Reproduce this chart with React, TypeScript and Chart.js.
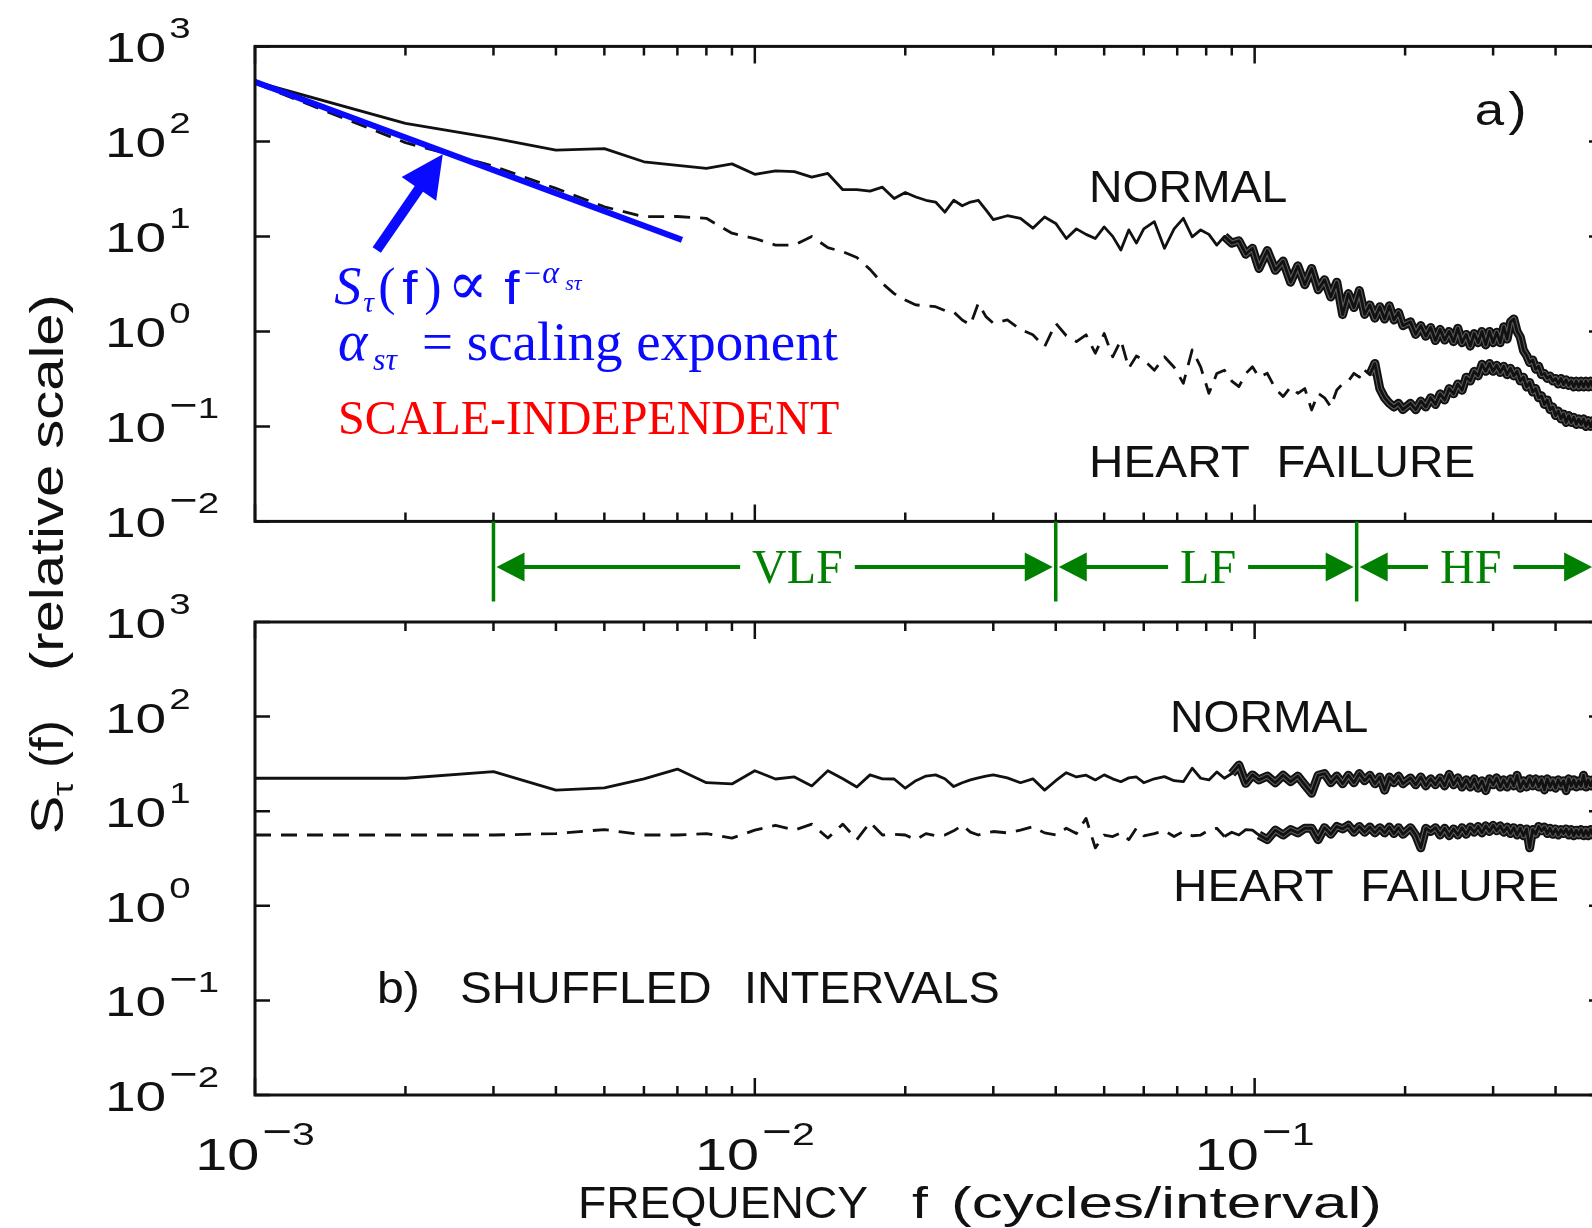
import { useEffect, useRef } from 'react';
import { Chart, registerables } from 'chart.js';

Chart.register(...registerables);

// ---------------- data ----------------
// frequencies f (cycles/interval)
const FREQ = [
  0.001, 0.002, 0.003, 0.004, 0.005, 0.006, 0.007, 0.008, 0.009, 0.010,
  0.011, 0.012, 0.013, 0.014, 0.015, 0.016, 0.017, 0.018, 0.019, 0.020,
  0.021, 0.022, 0.023, 0.024, 0.025, 0.026, 0.027, 0.028, 0.029, 0.030,
  0.032, 0.034, 0.036, 0.038, 0.040, 0.042, 0.044, 0.046, 0.048, 0.050,
  0.052, 0.054, 0.056, 0.058, 0.060,
  0.063, 0.066, 0.069, 0.072, 0.075, 0.078, 0.081, 0.084, 0.087, 0.090,
  0.093, 0.096, 0.099, 0.102,
  0.106, 0.110, 0.114, 0.118, 0.122, 0.126, 0.130, 0.134, 0.138, 0.142,
  0.146, 0.150, 0.154, 0.158, 0.162, 0.166, 0.170, 0.174, 0.178, 0.182,
  0.186, 0.190, 0.194, 0.198,
  0.205, 0.210, 0.215, 0.220, 0.225, 0.230, 0.235, 0.240, 0.245, 0.250,
  0.255, 0.260, 0.265, 0.270, 0.275, 0.280, 0.285, 0.290, 0.295, 0.300,
  0.305, 0.310, 0.315, 0.320, 0.325, 0.330, 0.335, 0.340, 0.345, 0.350,
  0.355, 0.360, 0.365, 0.370, 0.375, 0.380, 0.385, 0.390, 0.395, 0.400,
  0.405, 0.410, 0.415, 0.420, 0.425, 0.430, 0.435, 0.440, 0.445, 0.450,
  0.455, 0.460, 0.465, 0.470, 0.475, 0.480, 0.485, 0.490, 0.495, 0.500,
];

// panel a) original intervals
const TOP_NORMAL = [
  425, 155, 108, 81, 84, 61, 56, 52, 58, 45,
  49, 48, 42, 46, 31, 31, 30, 33, 25, 29,
  26, 24, 23, 18, 24, 21, 23, 24, 19, 15,
  16.5, 15.5, 12.2, 16, 13.7, 9.5, 12, 10.5, 9.5, 12.6,
  10, 7.2, 11.7, 8.5, 12,
  14.3, 7.5, 12, 15.5, 9.9, 11.7, 10.5, 8.1, 10, 8.5,
  9, 6.5, 7.5, 4.6,
  7.1, 4.4, 5.5, 3.3, 4.9, 3.1, 4.6, 2.75, 3.5, 2.3,
  3.3, 1.5, 2.5, 1.78, 2.7, 1.51, 1.9, 1.38, 1.82, 1.35,
  1.86, 1.32, 1.58, 1.15,
  1.26, 0.93, 1.15, 0.89, 1.1, 0.8, 1.05, 0.81, 1.0, 0.78,
  1.08, 0.76, 0.93, 0.7, 0.95, 0.76, 1.0, 0.72, 1.0, 0.76,
  0.98, 0.76, 1.12, 0.83, 1.26, 1.35, 1.0, 0.87, 0.63, 0.56,
  0.47, 0.5, 0.4, 0.43, 0.35, 0.36, 0.32, 0.34, 0.3, 0.32,
  0.28, 0.32, 0.275, 0.31, 0.27, 0.3, 0.26, 0.3, 0.26, 0.3,
  0.26, 0.3, 0.26, 0.3, 0.26, 0.29, 0.26, 0.29, 0.26, 0.28,
];
const TOP_HEART_FAILURE = [
  410, 97, 55, 32, 20.5, 16.1, 16.2, 15.5, 10.8, 9.5,
  8.1, 8.1, 10, 7.6, 6.9, 6.0, 4.5, 3.2, 2.5, 2.14,
  1.9, 1.86, 1.82, 1.66, 1.6, 1.32, 1.17, 1.98, 1.43, 1.22,
  1.32, 1.05, 0.92, 0.69, 1.22, 0.9, 0.78, 0.92, 0.59, 0.95,
  0.54, 0.81, 0.41, 0.55, 0.5,
  0.39, 0.54, 0.42, 0.284, 0.64, 0.42, 0.223, 0.36, 0.39, 0.3,
  0.262, 0.36, 0.425, 0.33,
  0.362, 0.25, 0.206, 0.26, 0.223, 0.25, 0.149, 0.223, 0.2, 0.161,
  0.242, 0.28, 0.3, 0.362, 0.33, 0.39, 0.35, 0.46, 0.25, 0.2,
  0.175, 0.16, 0.175, 0.15,
  0.175, 0.15, 0.185, 0.16, 0.2, 0.17, 0.22, 0.19, 0.25, 0.22,
  0.28, 0.24, 0.33, 0.3, 0.38, 0.34, 0.45, 0.38, 0.46, 0.38,
  0.44, 0.37, 0.43, 0.35, 0.41, 0.34, 0.38, 0.3, 0.33, 0.26,
  0.29, 0.23, 0.25, 0.2, 0.21, 0.17, 0.19, 0.15, 0.16, 0.13,
  0.145, 0.12, 0.135, 0.11, 0.13, 0.11, 0.125, 0.105, 0.12, 0.105,
  0.12, 0.1, 0.115, 0.1, 0.115, 0.1, 0.115, 0.1, 0.11, 0.1,
];

// panel b) shuffled intervals
const BOTTOM_NORMAL = [
  22.3, 22.3, 26.2, 16.7, 17.6, 22, 27.9, 20, 19.4, 26.8,
  21.9, 23, 18.5, 26.8, 22, 18, 24.2, 22, 21.9, 17.5,
  21, 23.5, 24.2, 22, 18.2, 20, 21.4, 22.5, 23.5, 24.2,
  22.5, 20, 22, 16.7, 21, 25.5, 23, 24, 21.4, 24.2,
  22, 20.5, 22.5, 23, 20,
  22, 23.2, 21, 20.5, 28.5, 22.3, 21.4, 26, 22.3, 25,
  30.7, 19.7, 24.2, 21.4,
  23.5, 20, 24, 20.5, 23.5, 19, 15.5, 24, 25, 20,
  23.5, 19.5, 24, 20, 25, 21, 24, 19.5, 23, 16.7,
  23, 20, 23.5, 19.5,
  22.5, 19, 23, 18.5, 22, 19, 22.5, 18.5, 24.5, 19,
  22.5, 18, 21.5, 18, 22, 17.5, 21, 16.5, 22, 19,
  22.5, 18, 21.5, 18, 22, 18.5, 24, 17.5, 21, 18,
  22, 18.5, 22, 18, 21.5, 16.8, 22, 18, 21, 17.5,
  21.5, 18.5, 21, 16.5, 22, 18.5, 21.5, 18, 21, 18.5,
  24, 18, 21.5, 18.5, 21.5, 18, 21, 18.5, 21, 18.5,
];
const BOTTOM_HEART_FAILURE = [
  5.6, 5.6, 5.6, 5.8, 6.4, 5.6, 5.6, 5.8, 5.2, 6.3,
  7.1, 6.3, 7.3, 5.2, 7.3, 5.0, 7.6, 5.6, 5.7, 5.6,
  5.0, 5.8, 5.5, 5.6, 6.2, 7.1, 6.0, 5.6, 5.9, 6.1,
  5.9, 6.3, 6.85, 5.9, 5.6, 6.6, 5.8, 8.4, 4.1, 5.6,
  5.4, 5.9, 5.0, 6.6, 5.5,
  5.8, 6.2, 5.4, 6.1, 5.5, 5.6, 6.3, 6.6, 5.4, 6.0,
  5.6, 6.4, 6.3, 5.6,
  5.0, 6.3, 5.6, 6.4, 5.9, 6.6, 6.6, 5.0, 6.7, 5.7,
  6.9, 6.5, 7.1, 6.0, 6.9, 6.0, 6.8, 5.9, 6.7, 5.9,
  6.8, 5.8, 6.7, 5.7,
  6.7, 5.6, 4.1, 6.6, 6.1, 6.7, 5.6, 6.6, 5.5, 6.5,
  5.6, 6.7, 5.7, 6.8, 6.0, 6.9, 5.9, 7.0, 6.1, 7.1,
  6.2, 7.0, 6.0, 6.8, 5.8, 6.7, 5.6, 6.6, 5.5, 6.5,
  4.1, 6.4, 5.7, 6.9, 6.2, 6.8, 5.8, 6.6, 5.7, 6.5,
  5.6, 6.4, 5.8, 6.5, 5.6, 6.4, 5.5, 6.3, 5.6, 6.4,
  5.5, 6.3, 5.5, 6.4, 5.6, 6.3, 5.5, 6.3, 5.6, 6.2,
];

// power-law fit S(f) ~ f^-alpha (blue line)
const FIT_F = [0.001, 0.00715];
const FIT_S = [425, 9.2];

// axis ticks
const X_MAJOR_TICKS = [0.001, 0.01, 0.1];
const X_TICK_EXPONENTS = ['−3', '−2', '−1'];
const X_MINOR_TICKS = [
  0.002, 0.003, 0.004, 0.005, 0.006, 0.007, 0.008, 0.009,
  0.02, 0.03, 0.04, 0.05, 0.06, 0.07, 0.08, 0.09,
  0.2, 0.3, 0.4,
];
const Y_TICKS = [0.01, 0.1, 1, 10, 100, 1000];
const Y_TICK_EXPONENTS = ['−2', '−1', '0', '1', '2', '3'];

// frequency bands
const BAND_NAMES = ['VLF', 'LF', 'HF'];
const BAND_EDGES = [0.003, 0.04, 0.16];
const BAND_END = 0.48;
const BAND_LABEL_F = [0.01217, 0.0807, 0.2706];

// ---------------- layout & style ----------------
const CANVAS_W = 1640;
const CANVAS_H = 1228;
const PLOT_LEFT = 255;
const PLOT_RIGHT = 1604;
const TOP_PANEL = { top: 46.4, bottom: 521.4 };
const BOTTOM_PANEL = { top: 622, bottom: 1095 };

const INK = '#111111';
const BAND_GRAY = '#5a5a5a';
const BLUE = '#0a0aff';
const RED = '#ff0000';
const GREEN = '#008000';
const SANS = '"Liberation Sans", Arial, Helvetica, sans-serif';
const SERIF = '"Liberation Serif", "Times New Roman", "DejaVu Serif", serif';

const TOP_LABELS = [
  { text: 'NORMAL', f: 0.04664, s: 23.0, sx: 1.03 },
  { text: 'HEART  FAILURE', f: 0.04664, s: 0.02934, sx: 1.06 },
];
const BOTTOM_LABELS = [
  { text: 'NORMAL', f: 0.06773, s: 68.7, sx: 1.03 },
  { text: 'HEART  FAILURE', f: 0.06864, s: 1.124, sx: 1.06 },
];
const ARROW = { tailF: 0.001752, tailS: 7.19, tipF: 0.002375, tipS: 73.1 };

type Ctx = CanvasRenderingContext2D;

function measure(ctx: Ctx, s: string, font: string, sx = 1) {
  ctx.save();
  ctx.font = font;
  const w = ctx.measureText(s).width * sx;
  ctx.restore();
  return w;
}

function text(ctx: Ctx, s: string, x: number, y: number, font: string, color = INK, sx = 1) {
  ctx.save();
  ctx.font = font;
  ctx.fillStyle = color;
  ctx.textAlign = 'left';
  ctx.textBaseline = 'alphabetic';
  ctx.translate(x, y);
  ctx.scale(sx, 1);
  ctx.fillText(s, 0, 0);
  ctx.restore();
  return measure(ctx, s, font, sx);
}

function drawPower(ctx: Ctx, exp: string, x: number, baseline: number, size: number, expSize: number, align: 'left' | 'center') {
  const sx = 1.28;
  const f10 = `${size}px ${SANS}`;
  const fe = `${expSize}px ${SANS}`;
  const fm = `${Math.round(expSize * 1.25)}px ${SANS}`;
  const neg = exp.startsWith('−');
  const digit = neg ? exp.slice(1) : exp;
  const w10 = measure(ctx, '10', f10, sx);
  const wm = neg ? measure(ctx, '−', fm, sx) : 0;
  const wd = measure(ctx, digit, fe, sx);
  const gap = 3;
  const total = w10 + gap + wm + wd;
  const x0 = align === 'left' ? x : x - total / 2;
  text(ctx, '10', x0, baseline, f10, INK, sx);
  const eb = baseline - size * 0.56;
  let cx = x0 + w10 + gap;
  if (neg) {
    text(ctx, '−', cx, eb, fm, INK, sx);
    cx += wm;
  }
  text(ctx, digit, cx, eb, fe, INK, sx);
}

function axesPlugin(id: string, withXLabels: boolean, extra: (chart: any) => void) {
  return {
    id,
    afterDatasetsDraw(chart: any) {
      const { ctx, chartArea: a } = chart;
      const xs = chart.scales.x;
      const ys = chart.scales.y;
      ctx.save();
      ctx.strokeStyle = INK;
      ctx.lineWidth = 3;
      ctx.lineCap = 'butt';
      ctx.strokeRect(a.left, a.top, a.right - a.left, a.bottom - a.top);
      ctx.lineWidth = 2.5;
      ctx.beginPath();
      const vtick = (v: number, len: number) => {
        const p = xs.getPixelForValue(v);
        ctx.moveTo(p, a.bottom);
        ctx.lineTo(p, a.bottom - len);
        ctx.moveTo(p, a.top);
        ctx.lineTo(p, a.top + len);
      };
      X_MINOR_TICKS.forEach((v) => vtick(v, 9));
      X_MAJOR_TICKS.forEach((v) => vtick(v, 17));
      Y_TICKS.forEach((v) => {
        const p = ys.getPixelForValue(v);
        ctx.moveTo(a.left, p);
        ctx.lineTo(a.left + 15, p);
        ctx.moveTo(a.right, p);
        ctx.lineTo(a.right - 15, p);
      });
      ctx.stroke();
      Y_TICKS.forEach((v, i) => drawPower(ctx, Y_TICK_EXPONENTS[i], 105, ys.getPixelForValue(v) + 16, 43, 30, 'left'));
      if (withXLabels) {
        X_MAJOR_TICKS.forEach((v, i) =>
          drawPower(ctx, X_TICK_EXPONENTS[i], xs.getPixelForValue(v), a.bottom + 75, 45, 32, 'center'));
      }
      extra(chart);
      ctx.restore();
    },
  };
}

function hArrow(ctx: Ctx, x0: number, x1: number, y: number, headAt: 'left' | 'right') {
  const headLen = 28;
  const half = 14.5;
  ctx.lineWidth = 4;
  ctx.beginPath();
  if (headAt === 'left') {
    ctx.moveTo(x0 + headLen - 1, y);
    ctx.lineTo(x1, y);
  } else {
    ctx.moveTo(x0, y);
    ctx.lineTo(x1 - headLen + 1, y);
  }
  ctx.stroke();
  ctx.beginPath();
  if (headAt === 'left') {
    ctx.moveTo(x0, y);
    ctx.lineTo(x0 + headLen, y - half);
    ctx.lineTo(x0 + headLen, y + half);
  } else {
    ctx.moveTo(x1, y);
    ctx.lineTo(x1 - headLen, y - half);
    ctx.lineTo(x1 - headLen, y + half);
  }
  ctx.closePath();
  ctx.fill();
}

function drawTopExtras(chart: any) {
  const { ctx, chartArea: a } = chart;
  const xs = chart.scales.x;
  const ys = chart.scales.y;
  const P = (f: number, s: number) => [xs.getPixelForValue(f), ys.getPixelForValue(s)];

  TOP_LABELS.forEach((l) => {
    const [x, y] = P(l.f, l.s);
    text(ctx, l.text, x, y, `45px ${SANS}`, INK, l.sx);
  });
  const [ax, ay] = P(0.2757, 149);
  const wa = text(ctx, 'a', ax, ay, `44px ${SANS}`, INK, 1.2);
  text(ctx, ')', ax + wa + 4, ay, `46px ${SANS}`, INK, 1.2);

  // blue arrow
  const [tx, ty] = P(ARROW.tailF, ARROW.tailS);
  const [hx, hy] = P(ARROW.tipF, ARROW.tipS);
  const dx = hx - tx;
  const dy = hy - ty;
  const L = Math.hypot(dx, dy);
  const ux = dx / L;
  const uy = dy / L;
  const nx = -uy;
  const ny = ux;
  const headLen = 42;
  const headHalf = 21;
  const bx = hx - ux * headLen;
  const by = hy - uy * headLen;
  ctx.strokeStyle = BLUE;
  ctx.fillStyle = BLUE;
  ctx.lineWidth = 10;
  ctx.lineCap = 'butt';
  ctx.beginPath();
  ctx.moveTo(tx, ty);
  ctx.lineTo(bx + ux * 3, by + uy * 3);
  ctx.stroke();
  ctx.beginPath();
  ctx.moveTo(hx, hy);
  ctx.lineTo(bx + nx * headHalf, by + ny * headHalf);
  ctx.lineTo(bx - nx * headHalf, by - ny * headHalf);
  ctx.closePath();
  ctx.fill();

  // formula, line 1
  const [fx, fy] = P(0.00144, 1.94);
  text(ctx, 'S', fx, fy, `italic 54px ${SERIF}`, BLUE);
  text(ctx, 'τ', fx + 29, fy + 8, `italic 30px ${SERIF}`, BLUE);
  text(ctx, '(', fx + 44, fy, `52px ${SERIF}`, BLUE);
  text(ctx, 'f', fx + 68, fy, `46px ${SANS}`, BLUE, 1.2);
  text(ctx, ')', fx + 90, fy, `52px ${SERIF}`, BLUE);
  text(ctx, '∝', fx + 113, fy, `60px ${SERIF}`, BLUE);
  text(ctx, 'f', fx + 170, fy, `46px ${SANS}`, BLUE, 1.2);
  text(ctx, '−', fx + 190, fy - 21, `30px ${SERIF}`, BLUE);
  text(ctx, 'α', fx + 208, fy - 21, `italic 32px ${SERIF}`, BLUE);
  text(ctx, 'sτ', fx + 231, fy - 14, `italic 22px ${SERIF}`, BLUE);
  // line 2
  const [gx, gy] = P(0.001466, 0.5);
  text(ctx, 'α', gx, gy, `italic 56px ${SERIF}`, BLUE);
  text(ctx, 'sτ', gx + 35, gy + 10, `italic 32px ${SERIF}`, BLUE);
  text(ctx, '= scaling exponent', gx + 84, gy, `55px ${SERIF}`, BLUE);
  // line 3
  const [rx, ry] = P(0.001466, 0.0822);
  text(ctx, 'SCALE-INDEPENDENT', rx, ry, `48px ${SERIF}`, RED);

  // VLF / LF / HF bands
  const yA = a.bottom + 45.5;
  ctx.strokeStyle = GREEN;
  ctx.fillStyle = GREEN;
  ctx.lineCap = 'butt';
  ctx.lineWidth = 3.5;
  ctx.beginPath();
  BAND_EDGES.forEach((f) => {
    const x = xs.getPixelForValue(f);
    ctx.moveTo(x, a.bottom);
    ctx.lineTo(x, a.bottom + 80);
  });
  ctx.stroke();
  BAND_NAMES.forEach((name, i) => {
    const x0 = xs.getPixelForValue(BAND_EDGES[i]) + 3;
    const x1 = xs.getPixelForValue(i < BAND_EDGES.length - 1 ? BAND_EDGES[i + 1] : BAND_END) - 3;
    const xc = xs.getPixelForValue(BAND_LABEL_F[i]);
    const font = `48px ${SERIF}`;
    const w = measure(ctx, name, font);
    text(ctx, name, xc - w / 2, yA + 16.5, font, GREEN);
    hArrow(ctx, x0, xc - w / 2 - 12, yA, 'left');
    hArrow(ctx, xc + w / 2 + 12, x1, yA, 'right');
  });
}

function drawBottomExtras(chart: any) {
  const { ctx } = chart;
  const xs = chart.scales.x;
  const ys = chart.scales.y;
  const P = (f: number, s: number) => [xs.getPixelForValue(f), ys.getPixelForValue(s)];
  BOTTOM_LABELS.forEach((l) => {
    const [x, y] = P(l.f, l.s);
    text(ctx, l.text, x, y, `45px ${SANS}`, INK, l.sx);
  });
  const [bx, by] = P(0.001754, 0.0939);
  text(ctx, 'b)', bx, by, `45px ${SANS}`, INK, 1.07);
  text(ctx, 'SHUFFLED', bx + 83, by, `45px ${SANS}`, INK, 1.06);
  text(ctx, 'INTERVALS', bx + 367, by, `45px ${SANS}`, INK, 1.04);

  // x-axis title
  const xb = 1218;
  text(ctx, 'FREQUENCY', 578, xb, `44px ${SANS}`, INK, 1.05);
  text(ctx, 'f', 912, xb, `44px ${SANS}`, INK, 1.3);
  text(ctx, '(cycles/interval)', 951, xb, `44px ${SANS}`, INK, 1.41);

  // y-axis title (rotated)
  ctx.save();
  ctx.translate(63, 834);
  ctx.rotate(-Math.PI / 2);
  text(ctx, 'S', 0, 0, `46px ${SANS}`, INK, 1.25);
  text(ctx, 'τ', 38, 10, `30px ${SANS}`, INK, 1.2);
  text(ctx, '(f)', 66, 0, `46px ${SANS}`, INK, 1.1);
  text(ctx, '(relative scale)', 163, 0, `46px ${SANS}`, INK, 1.26);
  ctx.restore();
}

function pts(freq: number[], vals: number[]) {
  return freq.map((f, i) => ({ x: f, y: vals[i] }));
}

function solidSet(label: string, vals: number[]) {
  return {
    label,
    data: pts(FREQ, vals),
    borderColor: INK,
    borderWidth: 2.8,
    pointRadius: 0,
    borderJoinStyle: 'round',
    fill: false,
    tension: 0,
  };
}

function dashedSet(label: string, vals: number[], solidFrom: number) {
  return {
    ...solidSet(label, vals),
    borderDash: [16, 10],
    segment: {
      borderDash: (c: any) => (c.p0.parsed.x >= solidFrom ? [] : [16, 10]),
    },
  };
}

// body of the dense (high-frequency) part of a spectrum, drawn under the black trace
function bandSet(label: string, vals: number[], from: number, width: number, color: string) {
  return {
    label,
    data: pts(FREQ, vals),
    borderColor: 'rgba(0,0,0,0)',
    borderWidth: width,
    pointRadius: 0,
    borderJoinStyle: 'round',
    fill: false,
    tension: 0,
    segment: {
      borderColor: (c: any) => (c.p0.parsed.x >= from ? color : 'rgba(0,0,0,0)'),
    },
  };
}

function makeConfig(datasets: any[], panel: { top: number; bottom: number }, plugin: any) {
  return {
    type: 'line',
    data: { datasets },
    options: {
      responsive: false,
      animation: false,
      devicePixelRatio: 1,
      events: [],
      layout: {
        padding: {
          left: PLOT_LEFT,
          right: CANVAS_W - PLOT_RIGHT,
          top: panel.top,
          bottom: CANVAS_H - panel.bottom,
        },
      },
      plugins: { legend: { display: false }, tooltip: { enabled: false }, title: { display: false } },
      elements: { point: { radius: 0 }, line: { borderJoinStyle: 'round' } },
      scales: {
        x: { type: 'logarithmic', min: 0.001, max: 0.5, bounds: 'data', display: false },
        y: { type: 'logarithmic', min: 0.01, max: 1000, bounds: 'data', display: false },
      },
    },
    plugins: [plugin],
  } as any;
}

export default function App() {
  const topRef = useRef<HTMLCanvasElement>(null);
  const botRef = useRef<HTMLCanvasElement>(null);

  useEffect(() => {
    const top = new Chart(
      topRef.current!,
      makeConfig(
        [
          {
            label: 'fit',
            data: pts(FIT_F, FIT_S),
            borderColor: BLUE,
            borderWidth: 6,
            pointRadius: 0,
            borderCapStyle: 'butt',
            fill: false,
          },
          solidSet('Normal', TOP_NORMAL),
          dashedSet('Heart failure', TOP_HEART_FAILURE, 0.165),
          bandSet('Normal band', TOP_NORMAL, 0.085, 5, BAND_GRAY),
          bandSet('Heart failure band', TOP_HEART_FAILURE, 0.17, 5, BAND_GRAY),
          bandSet('Normal band edge', TOP_NORMAL, 0.085, 9, INK),
          bandSet('Heart failure band edge', TOP_HEART_FAILURE, 0.17, 9, INK),
        ],
        TOP_PANEL,
        axesPlugin('topAxes', false, drawTopExtras),
      ),
    );
    const bottom = new Chart(
      botRef.current!,
      makeConfig(
        [
          solidSet('Normal (shuffled)', BOTTOM_NORMAL),
          dashedSet('Heart failure (shuffled)', BOTTOM_HEART_FAILURE, 0.085),
          bandSet('Normal band (shuffled)', BOTTOM_NORMAL, 0.09, 5, BAND_GRAY),
          bandSet('Heart failure band (shuffled)', BOTTOM_HEART_FAILURE, 0.1, 5, BAND_GRAY),
          bandSet('Normal band edge (shuffled)', BOTTOM_NORMAL, 0.09, 9, INK),
          bandSet('Heart failure band edge (shuffled)', BOTTOM_HEART_FAILURE, 0.1, 9, INK),
        ],
        BOTTOM_PANEL,
        axesPlugin('bottomAxes', true, drawBottomExtras),
      ),
    );
    return () => {
      top.destroy();
      bottom.destroy();
    };
  }, []);

  return (
    <div
      style={{
        position: 'fixed',
        left: 0,
        top: 0,
        width: 1592,
        height: 1228,
        overflow: 'hidden',
        background: '#ffffff',
      }}
    >
      <canvas ref={topRef} width={CANVAS_W} height={CANVAS_H} style={{ position: 'absolute', left: 0, top: 0 }} />
      <canvas ref={botRef} width={CANVAS_W} height={CANVAS_H} style={{ position: 'absolute', left: 0, top: 0 }} />
    </div>
  );
}
